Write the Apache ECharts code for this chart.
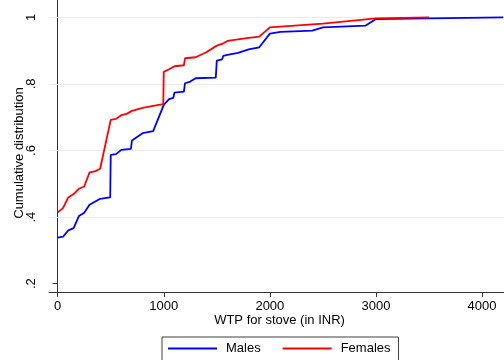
<!DOCTYPE html>
<html>
<head>
<meta charset="utf-8">
<script src="https://cdn.jsdelivr.net/npm/echarts@6/dist/echarts.min.js"></script>
<style>
  html, body { margin: 0; padding: 0; background: #fff; }
  #cdf-map { width: 504px; height: 360px; }
</style>
</head>
<body>
<div id="cdf-map"></div>
<script>
// WTP (INR) and cumulative share
var maleWtp = [0, 50, 100, 150, 200, 250, 300, 400, 495, 500, 550, 600, 690, 700, 800, 900, 1000, 1050, 1090, 1100, 1190, 1200, 1250, 1300, 1490, 1500, 1550, 1560, 1600, 1700, 1800, 1900, 2000, 2100, 2400, 2500, 2900, 3000, 3500, 4200];
var maleCum = [0.338, 0.341, 0.360, 0.367, 0.403, 0.413, 0.437, 0.455, 0.459, 0.587, 0.589, 0.602, 0.605, 0.630, 0.652, 0.658, 0.737, 0.754, 0.758, 0.774, 0.777, 0.802, 0.807, 0.817, 0.819, 0.870, 0.874, 0.884, 0.887, 0.893, 0.904, 0.910, 0.951, 0.956, 0.960, 0.970, 0.975, 0.995, 0.997, 1.0];

var femaleWtp = [0, 50, 100, 150, 200, 250, 300, 350, 400, 500, 550, 600, 650, 700, 800, 900, 995, 1000, 1050, 1100, 1190, 1200, 1300, 1400, 1500, 1550, 1600, 1700, 1800, 1900, 2000, 2500, 3000, 3500];
var femaleCum = [0.414, 0.427, 0.459, 0.469, 0.485, 0.492, 0.534, 0.537, 0.545, 0.692, 0.695, 0.706, 0.710, 0.719, 0.728, 0.734, 0.739, 0.836, 0.844, 0.853, 0.856, 0.877, 0.880, 0.895, 0.915, 0.920, 0.929, 0.934, 0.938, 0.942, 0.970, 0.981, 0.997, 1.0];

var xTicks = [0, 1000, 2000, 3000, 4000];
var yTicks = [0.2, 0.4, 0.6, 0.8, 1];
var yTickLabels = ['.2', '.4', '.6', '.8', '1'];
var yGrid = [0.4, 0.6, 0.8, 1];

function pairs(xs, ys) {
    return xs.map(function (x, i) { return [x, ys[i]]; });
}

var font = 'Liberation Sans, Arial, sans-serif';

option = {
    animation: false,
    backgroundColor: '#fff',
    grid: {
        left: 49,
        right: 0,
        top: 0,
        bottom: 68,
        containLabel: false,
        outerBoundsMode: 'none'
    },
    legend: {
        data: ['Males', 'Females'],
        left: 162,
        top: 337,
        orient: 'horizontal',
        icon: 'rect',
        itemWidth: 49,
        itemHeight: 2,
        itemGap: 22,
        padding: [5, 8, 30, 6],
        borderColor: '#404040',
        borderWidth: 1,
        backgroundColor: '#fff',
        textStyle: {
            fontFamily: font,
            fontSize: 13,
            color: '#000',
            padding: [0, 0, 0, 4]
        }
    },
    xAxis: {
        type: 'value',
        min: -82,
        max: 4207,
        name: 'WTP for stove (in INR)',
        nameLocation: 'middle',
        nameGap: 22,
        nameMoveOverlap: false,
        nameTextStyle: { fontFamily: font, fontSize: 13, color: '#000', padding: [0, 0, 0, 6] },
        axisLine: { show: true, lineStyle: { color: '#333', width: 1 } },
        axisTick: { show: true, length: 5, lineStyle: { color: '#333' }, customValues: xTicks },
        axisLabel: {
            fontFamily: font, fontSize: 13, color: '#000', margin: 8,
            customValues: xTicks,
            formatter: function (v) { return String(v); }
        },
        splitLine: { show: false }
    },
    yAxis: {
        type: 'value',
        min: 0.175,
        max: 1.052,
        name: 'Cumulative distribution',
        nameLocation: 'middle',
        nameGap: 23,
        nameMoveOverlap: false,
        nameTextStyle: { fontFamily: font, fontSize: 13, color: '#000', padding: [0, 14, 0, 0] },
        axisLine: { show: true, lineStyle: { color: '#333', width: 1 } },
        axisTick: { show: true, length: 5, lineStyle: { color: '#333' }, customValues: yTicks },
        axisLabel: {
            fontFamily: font, fontSize: 13, color: '#000', margin: 11, rotate: 90,
            customValues: yTicks,
            formatter: function (v) {
                var i = yTicks.findIndex(function (t) { return Math.abs(t - v) < 1e-6; });
                return i >= 0 ? yTickLabels[i] : '';
            }
        },
        splitLine: { show: false }
    },
    series: [
        {
            name: 'grid',
            type: 'line',
            data: [],
            silent: true,
            z: 1,
            markLine: {
                z: 1,
                silent: true,
                symbol: 'none',
                label: { show: false },
                lineStyle: { color: '#e6eeef', type: 'solid', width: 1 },
                data: yGrid.map(function (v) { return { yAxis: v }; })
            }
        },
        {
            name: 'Males',
            type: 'line',
            z: 3,
            showSymbol: false,
            color: '#0000ff',
            lineStyle: { width: 1.8, color: '#0000ff' },
            data: pairs(maleWtp, maleCum)
        },
        {
            name: 'Females',
            type: 'line',
            z: 4,
            showSymbol: false,
            color: '#ff0000',
            lineStyle: { width: 1.8, color: '#ff0000' },
            data: pairs(femaleWtp, femaleCum)
        }
    ]
};

var chart = echarts.init(document.getElementById('cdf-map'));
chart.setOption(option);
</script>
</body>
</html>
